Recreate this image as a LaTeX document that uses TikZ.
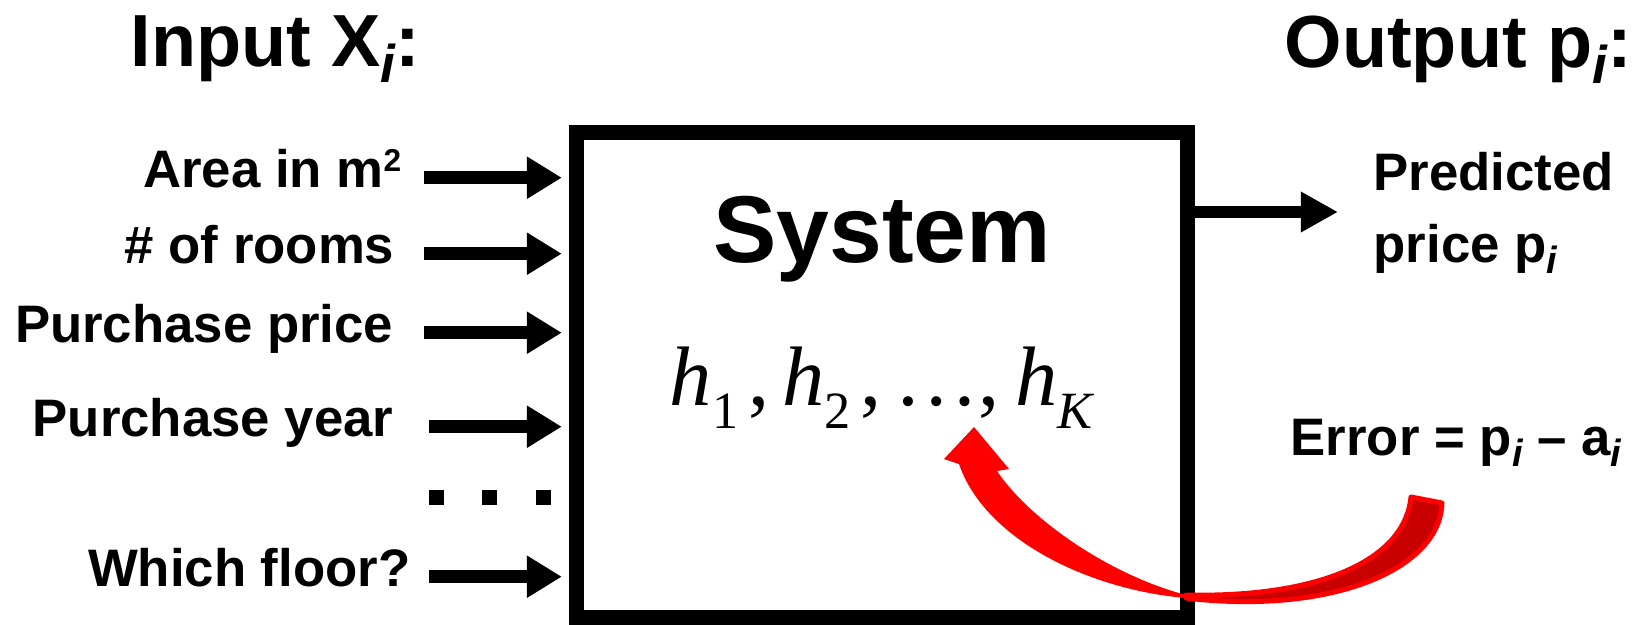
\documentclass[tikz,border=0pt]{standalone}
\usepackage{fontspec}
\setmainfont{Liberation Sans}
\newfontfamily\serifmath{Liberation Serif}
\usetikzlibrary{arrows.meta,positioning}
\definecolor{errred}{HTML}{FF0000}
\definecolor{errdark}{HTML}{C80000}
\newcommand{\idx}[1]{\raisebox{-0.22em}{\scalebox{0.72}{\itshape #1}}}
\newcommand{\hsub}[1]{\raisebox{-0.28em}{\scalebox{0.62}{#1}}}
\newcommand{\sqr}{\raisebox{0.3em}{\scalebox{0.6}{2}}}

\begin{document}
\begin{tikzpicture}[x=0.01cm,y=-0.01cm,
    title/.style={font=\fontsize{21pt}{25pt}\selectfont\bfseries,inner sep=0pt},
    lbl/.style={font=\fontsize{15pt}{18pt}\selectfont\bfseries,inner sep=0pt},
    inarrow/.style={line width=0.125cm,shorten >=0.07cm,-{Triangle[length=0.35cm,width=0.40cm]}},
    outarrow/.style={line width=0.12cm,-{Triangle[length=0.37cm,width=0.38cm]}},
    dotsq/.style={fill=black,minimum size=0.15cm,inner sep=0pt}]
  \useasboundingbox (0,0) rectangle (1645,624);
  \node[title,anchor=base west] (intitle) at (130,66) {Input X\idx{i}:};
  \node[title,anchor=base west] (outtitle) at (1284,67) {Output p\idx{i}:};
  \node[draw,line width=0.15cm,minimum width=6.11cm,minimum height=4.84cm,inner sep=0pt] (sysbox) at (882,375) {};
  \node[font=\fontsize{27pt}{31pt}\selectfont\bfseries,inner sep=0pt,anchor=base] (systxt) at (882,262) {System};
  \node[font=\fontsize{24pt}{28pt}\selectfont\serifmath,inner sep=0pt,anchor=base] (hlist) at (881,405)
    {\textit{h}\hsub{1}\hspace{0.12em},\hspace{0.15em}\textit{h}\hsub{2}\hspace{0.12em},\hspace{0.15em}…,\hspace{0.18em}\textit{h}\hsub{\itshape K}};
  % inputs
  \node[lbl,anchor=base east] (area) at (402,187) {Area in m\sqr};
  \node[lbl,anchor=base east] (rooms) at (395,263) {\# of rooms};
  \node[lbl,anchor=base east] (pprice) at (394,342) {Purchase price};
  \node[lbl,anchor=base east] (pyear) at (394,436) {Purchase year};
  \node[lbl,anchor=base east] (floor) at (411,586) {Which floor?};
  \coordinate (instart) at (424,0);
  \coordinate (instart2) at (429,0);
  \draw[inarrow] (instart |- area.mid) -- (sysbox.west |- area.mid);
  \draw[inarrow] (instart |- rooms.mid) -- (sysbox.west |- rooms.mid);
  \draw[inarrow] (instart |- pprice.mid) -- (sysbox.west |- pprice.mid);
  \draw[inarrow] (instart2 |- pyear.mid) -- (sysbox.west |- pyear.mid);
  \draw[inarrow] (instart2 |- floor.mid) -- (sysbox.west |- floor.mid);
  \node[dotsq] (dot1) at (436,497) {};
  \node[dotsq] (dot2) at (489,497) {};
  \node[dotsq] (dot3) at (543,497) {};
  % output
  \coordinate (outend) at (1338,212);
  \draw[outarrow] (sysbox.east |- outend) -- (outend);
  \node[lbl,anchor=base west] (pred) at (1373,190) {Predicted};
  \node[lbl,anchor=base west] (predp) at (1373,262) {price p\idx{i}};
  \node[lbl,anchor=base west] (error) at (1290,455) {Error = p\idx{i} – a\idx{i}};
  % feedback arrow
  \filldraw[fill=errdark,draw=errred,line width=0.05cm,line join=round]
    (1186,598) .. controls (1330,615) and (1440,570) .. (1442,503) -- (1411,497)
    .. controls (1405,560) and (1320,598) .. (1186,595) -- cycle;
  \fill[errred] (1186,598) .. controls (1090,590) and (985,540) .. (959,464) -- (944,459) -- (974,427)
    -- (1009,469) -- (997,471) .. controls (1030,520) and (1110,575) .. (1186,595) -- cycle;
\end{tikzpicture}
\end{document}
